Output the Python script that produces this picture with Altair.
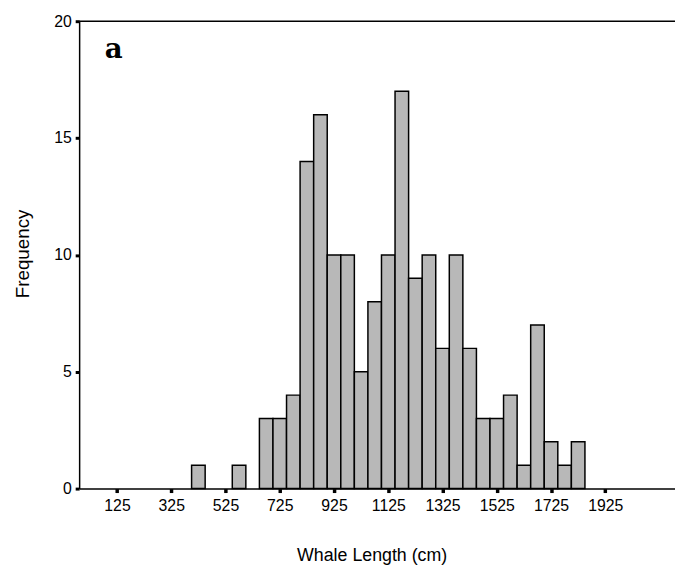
import altair as alt
import pandas as pd

# Histogram of whale lengths (50 cm bins)
bin_starts = [400, 550, 650, 700, 750, 800, 850, 900, 950, 1000, 1050, 1100,
              1150, 1200, 1250, 1300, 1350, 1400, 1450, 1500, 1550, 1600,
              1650, 1700, 1750, 1800]
counts = [1, 1, 3, 3, 4, 14, 16, 10, 10, 5, 8, 10,
          17, 9, 10, 6, 10, 6, 3, 3, 4, 1,
          7, 2, 1, 2]
bin_width = 50
x_ticks = [125, 325, 525, 725, 925, 1125, 1325, 1525, 1725, 1925]
y_ticks = [0, 5, 10, 15, 20]
panel_label = ["a"]

df = pd.DataFrame({"start": bin_starts, "count": counts})
df["end"] = df["start"] + bin_width

FONT = "Liberation Sans"
xscale = alt.Scale(domain=[-14.5, 2182], nice=False, zero=False)
yscale = alt.Scale(domain=[0, 20], nice=False)

bars = alt.Chart(df).mark_bar(
    fill="#b8b8b8", stroke="black", strokeWidth=1.5
).encode(
    x=alt.X("start:Q", scale=xscale,
            axis=alt.Axis(values=x_ticks, title="Whale Length (cm)", format="d",
                          grid=False, domainColor="black", domainWidth=1.5,
                          tickColor="black", tickWidth=3.5, tickSize=4,
                          labelFont=FONT, labelFontSize=16, labelColor="black",
                          labelPadding=5, titleFont=FONT, titleFontSize=18,
                          titleFontWeight="normal", titleColor="black",
                          titleX=296, titleY=68, titleBaseline="middle")),
    x2="end:Q",
    y=alt.Y("count:Q", scale=yscale,
            axis=alt.Axis(values=y_ticks, title="Frequency", format="d",
                          grid=False, domainColor="black", domainWidth=1.5,
                          tickColor="black", tickWidth=3, tickSize=4,
                          labelFont=FONT, labelFontSize=16, labelColor="black",
                          labelPadding=4, titleFont=FONT, titleFontSize=19,
                          titleFontWeight="normal", titleColor="black",
                          titleAngle=-90, titleX=-57, titleY=235,
                          titleBaseline="middle", titleAlign="center")),
    y2=alt.datum(0),
)

top_line = alt.Chart(pd.DataFrame({"v": [20]})).mark_rule(
    color="black", strokeWidth=1.5
).encode(y=alt.Y("v:Q", scale=yscale))

label = alt.Chart(pd.DataFrame({"t": panel_label})).mark_text(
    font="DejaVu Serif", fontWeight="bold", fontSize=28,
    align="left", baseline="alphabetic", color="black"
).encode(text="t:N", x=alt.value(26), y=alt.value(37))

chart = alt.layer(bars, top_line, label).properties(
    width=603, height=473,
    autosize=alt.AutoSizeParams(type="none"),
    padding={"left": 72, "top": 10, "right": 0, "bottom": 78},
).configure_view(stroke=None)

chart.save("out.html", embed_options={"renderer": "svg", "actions": False})
